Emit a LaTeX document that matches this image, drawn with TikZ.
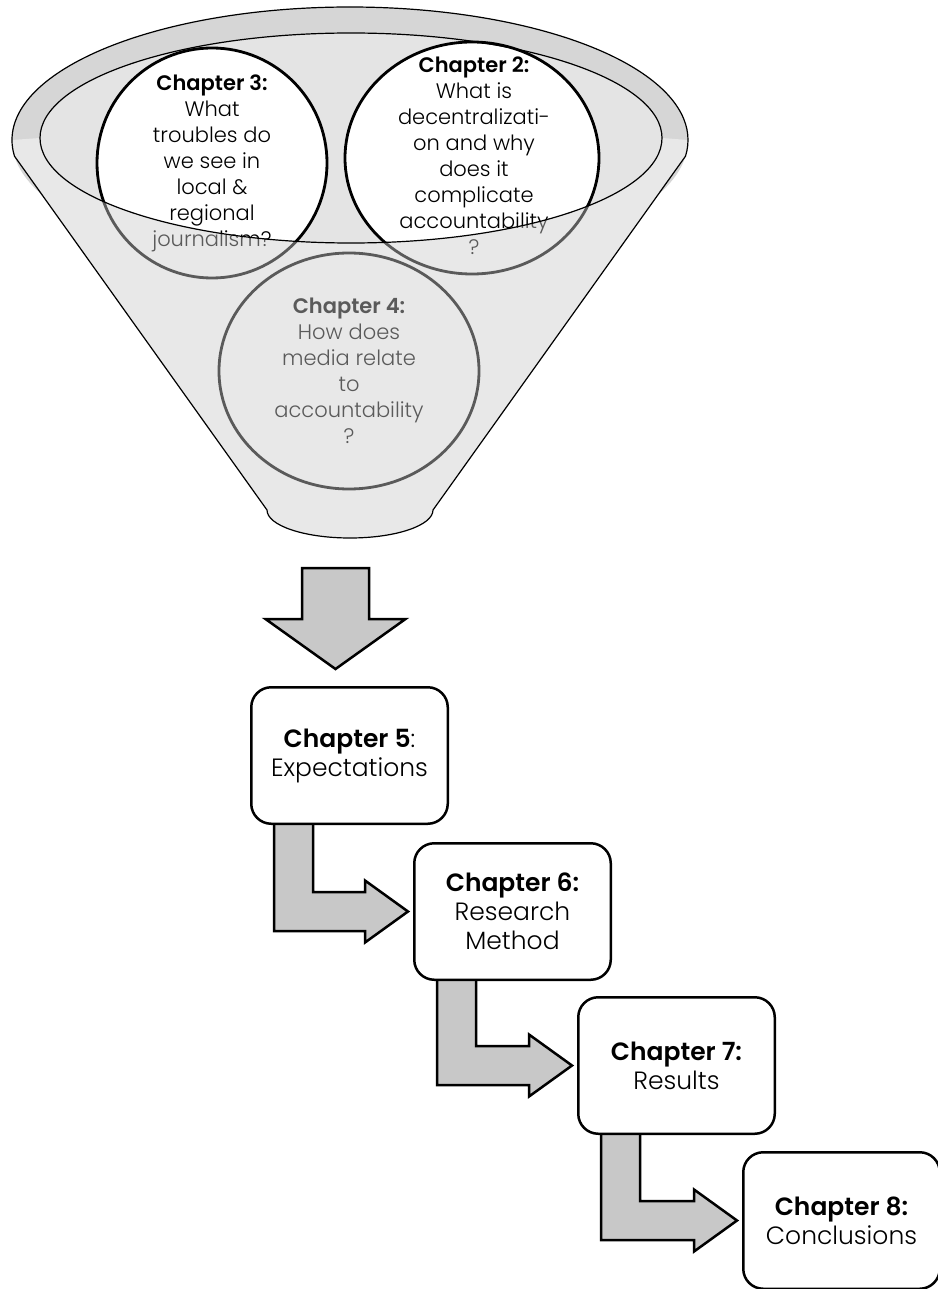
\documentclass[tikz,border=0pt]{standalone}
\usepackage{fontspec}
\setmainfont{Poppins Light}[BoldFont={Poppins SemiBold}]
\usetikzlibrary{calc,backgrounds}
\definecolor{ringgray}{HTML}{D6D6D6}
\definecolor{innergray}{HTML}{E4E4E4}
\definecolor{bodygray}{HTML}{E8E8E8}
\definecolor{arrowgray}{HTML}{C8C8C8}
\definecolor{fadegray}{HTML}{5A5A5A}
\newcommand\boxfont{\fontsize{25}{29}\selectfont}
\newcommand\circfont{\fontsize{21}{26}\selectfont}
\newcommand\txtthree{\textbf{Chapter 3:}\\What\\troubles do\\we see in\\local \&\\regional\\journalism?}
\newcommand\txttwo{\textbf{Chapter 2:}\\What is\\decentralizati-\\on and why\\does it\\complicate\\accountability\\?}
\newcommand\txtfour{\textbf{Chapter 4:}\\How does\\media relate\\to\\accountability\\?}
\begin{document}
\begin{tikzpicture}[x=1pt,y=1pt,
  circtxt/.style={align=center, inner sep=0pt, font=\circfont},
  circline/.style={line width=2.8pt},
  funnelline/.style={line width=1.2pt, draw=black},
  chapbox/.style={draw, line width=2.5pt, rounded corners=20pt, fill=white,
    minimum width=196.5pt, minimum height=136.5pt, align=center, inner sep=0pt,
    font=\boxfont, anchor=north west},
  blockarrow/.style={draw=black, line width=2.5pt, fill=arrowgray, line join=miter}]
\useasboundingbox (0,0) rectangle (937,-1289);
\begin{scope}[on background layer]
\fill[white] (0,0) rectangle (937,-1289);
\end{scope}
% funnel rim
\fill[ringgray] (350,-140) ellipse [x radius=338, y radius=133];
\fill[innergray] (351,-138) ellipse [x radius=311, y radius=105];
% circles inside the rim
\draw[circline, fill=white] (212,-163) ellipse [x radius=115, y radius=115];
\node[circtxt] (c3) at (212,-163) {\txtthree};
\draw[circline, fill=white] (472,-158) ellipse [x radius=127, y radius=116];
\node[circtxt] (c2) at (474,-156) {\txttwo};
% front body of the funnel
\begin{scope}
\clip (40,-138) arc[start angle=180, end angle=360, x radius=311, y radius=105]
  -- (688,-140) arc[start angle=0, end angle=-7, x radius=338, y radius=133]
  -- (433,-510) arc[start angle=0, end angle=-180, x radius=83, y radius=28]
  -- (14.5,-156.2) arc[start angle=187, end angle=180, x radius=338, y radius=133]
  -- cycle;
\fill[bodygray] (0,0) rectangle (937,-600);
\draw[circline, draw=fadegray] (212,-163) ellipse [x radius=115, y radius=115];
\node[circtxt, text=fadegray] (c3g) at (212,-163) {\txtthree};
\draw[circline, draw=fadegray] (472,-158) ellipse [x radius=127, y radius=116];
\node[circtxt, text=fadegray] (c2g) at (474,-156) {\txttwo};
\draw[circline, draw=fadegray] (349,-371) ellipse [x radius=130, y radius=118];
\node[circtxt, text=fadegray] (c4) at (349,-371) {\txtfour};
\end{scope}
% outlines
\draw[funnelline] (12,-140) arc[start angle=180, end angle=-7, x radius=338, y radius=133]
  -- (433,-510) arc[start angle=0, end angle=-180, x radius=83, y radius=28]
  -- (14.5,-156.2) arc[start angle=187, end angle=180, x radius=338, y radius=133] -- cycle;
\draw[funnelline] (351,-138) ellipse [x radius=311, y radius=105];
% big down arrow
\draw[blockarrow] (302,-568) -- (369,-568) -- (369,-619) -- (405.5,-619) -- (335.5,-669)
  -- (265.5,-619) -- (302,-619) -- cycle;
% chapter boxes
\node[chapbox] (b5) at (250,-686) {\textbf{Chapter 5}:\\Expectations};
\node[chapbox] (b6) at (413,-842) {\textbf{Chapter 6:}\\Research\\Method};
\node[chapbox] (b7) at (577,-996) {\textbf{Chapter 7:}\\Results};
\node[chapbox] (b8) at (742,-1151) {\textbf{Chapter 8:}\\Conclusions};
% bent arrows
\begin{scope}[on background layer]
\foreach \src/\dst in {b5/b6,b6/b7,b7/b8}{
  \draw[blockarrow] let \p1=(\src.south west), \p2=(\dst.west) in
    (\x1+24pt,\y1+5pt) -- (\x1+24pt,\y2-19.5pt) -- (\x2-48pt,\y2-19.5pt)
    -- (\x2-48pt,\y2-31pt) -- (\x2-5pt,\y2) -- (\x2-48pt,\y2+31pt)
    -- (\x2-48pt,\y2+19.5pt) -- (\x1+63pt,\y2+19.5pt) -- (\x1+63pt,\y1+5pt) -- cycle;
}
\end{scope}
\end{tikzpicture}
\end{document}
